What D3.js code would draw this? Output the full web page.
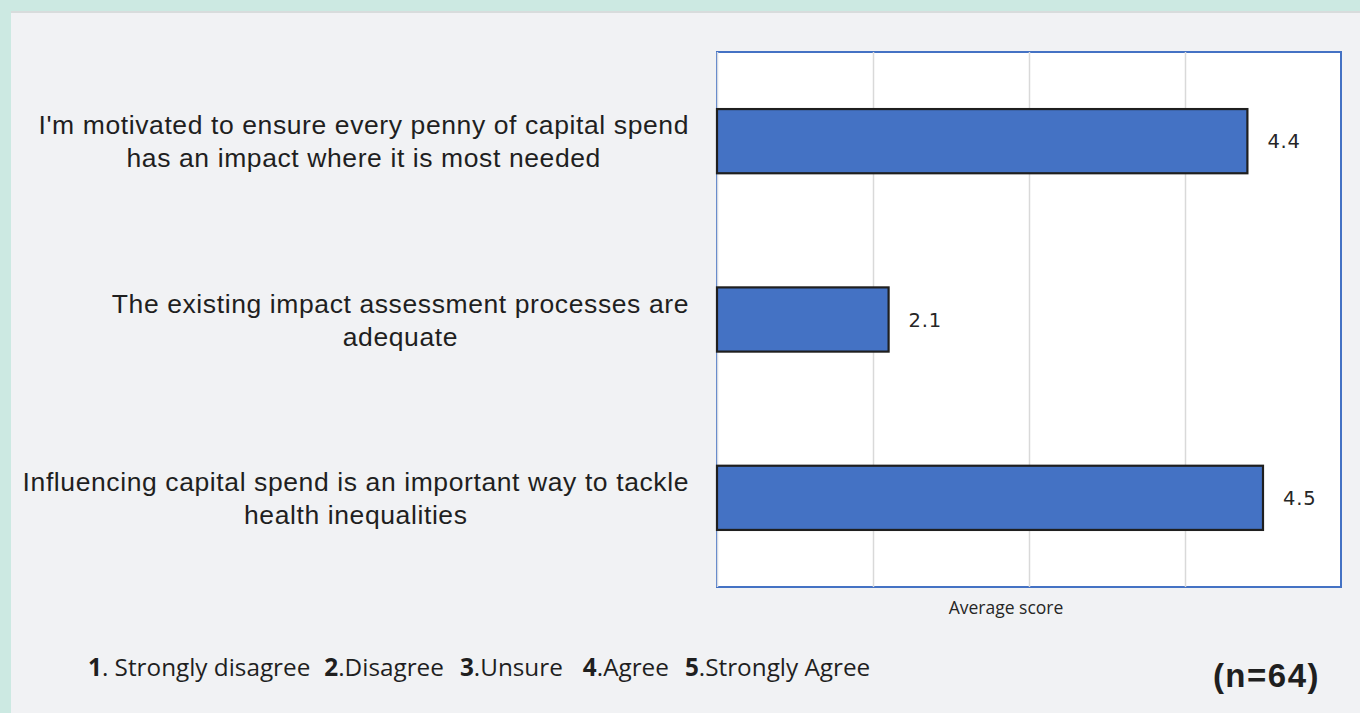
<!DOCTYPE html>
<html>
<head>
<meta charset="utf-8">
<script src="https://cdn.jsdelivr.net/npm/d3@7"></script>
<style>
  html, body { margin: 0; padding: 0; background: #cce9e2; }
  svg { display: block; }
</style>
</head>
<body>
<svg id="chart" width="1360" height="713"></svg>
<script>
// Survey statements (each array entry is one line of the wrapped label)
const categories = [
  ["I'm motivated to ensure every penny of capital spend", "has an impact where it is most needed"],
  ["The existing impact assessment processes are", "adequate"],
  ["Influencing capital spend is an important way to tackle", "health inequalities"]
];
const values = [4.4, 2.1, 4.5];
const gridTicks = [1, 2, 3, 4, 5];
const scaleNumbers = ["1", "2", "3", "4", "5"];
const scaleNames = [". Strongly disagree", ".Disagree", ".Unsure", ".Agree", ".Strongly Agree"];
const axisTitle = "Average score";
const sampleNote = "(n=64)";

const svg = d3.select("#chart");

// page panel on the teal frame
svg.append("rect").attr("x", 11).attr("y", 11).attr("width", 1349).attr("height", 702)
  .attr("fill", "#f1f2f4");
svg.append("rect").attr("x", 11).attr("y", 11).attr("width", 1349).attr("height", 2)
  .attr("fill", "#d8dcdc");

const plot = { left: 717, right: 1341, top: 52, bottom: 587 };

const x = d3.scaleLinear().domain([1, 5]).range([plot.left, plot.right]);
const y = d3.scaleBand().domain(d3.range(values.length))
  .range([plot.top, plot.bottom]).paddingInner(0.64).paddingOuter(0.32);

// plot area
svg.append("rect")
  .attr("x", plot.left).attr("y", plot.top)
  .attr("width", plot.right - plot.left).attr("height", plot.bottom - plot.top)
  .attr("fill", "#ffffff").attr("stroke", "#4472c4").attr("stroke-width", 2);

// vertical gridlines
const grid = svg.append("g")
  .attr("transform", `translate(0,${plot.bottom})`)
  .call(d3.axisBottom(x).tickValues(gridTicks).tickSize(-(plot.bottom - plot.top)).tickFormat(""));
grid.select(".domain").remove();
grid.selectAll(".tick line").attr("stroke", "#d9d9d9").attr("stroke-width", 1.5)
  .filter(d => d === 5).remove();
grid.selectAll(".tick line").filter(d => d === 1).attr("stroke", "#d6dbe3");

// bars
svg.append("g").selectAll("rect").data(values).join("rect")
  .attr("x", x(1))
  .attr("y", (d, i) => y(i))
  .attr("width", d => x(d) - x(1))
  .attr("height", y.bandwidth())
  .attr("fill", "#4472c4")
  .attr("stroke", "#1f1f1f")
  .attr("stroke-width", 2.2);

// value labels
svg.append("g").selectAll("text").data(values).join("text")
  .attr("x", d => x(d) + 20)
  .attr("y", (d, i) => y(i) + y.bandwidth() / 2)
  .attr("dy", "0.36em")
  .attr("font-family", "'DejaVu Sans', sans-serif")
  .attr("font-size", 19.5)
  .attr("letter-spacing", 0.8)
  .attr("fill", "#262626")
  .text(d => d.toFixed(1));

// category labels: centred lines, block right-aligned to the axis
const labelRight = 689;
categories.forEach((lines, i) => {
  const g = svg.append("g");
  const cy = y(i) + y.bandwidth() / 2;
  const lineH = 33;
  const texts = lines.map((ln, j) => g.append("text")
    .attr("y", cy + (j - (lines.length - 1) / 2) * lineH)
    .attr("dy", "0.36em")
    .attr("text-anchor", "middle")
    .attr("font-family", "'Liberation Sans', Arial, sans-serif")
    .attr("font-size", 26.5)
    .attr("letter-spacing", 0.6)
    .attr("fill", "#1f1f1f")
    .text(ln));
  const maxW = d3.max(texts, t => t.node().getComputedTextLength());
  texts.forEach(t => t.attr("x", labelRight - maxW / 2));
});

// axis title
svg.append("text")
  .attr("x", 1006).attr("y", 614)
  .attr("text-anchor", "middle")
  .attr("font-family", "'Open Sans', sans-serif")
  .attr("font-size", 17.5)
  .attr("fill", "#262626")
  .text(axisTitle);

// scale legend: bold number followed by its meaning
const legendGaps = [14, 16, 20, 16];
let lx = 88;
scaleNumbers.forEach((n, i) => {
  const t = svg.append("text")
    .attr("x", lx).attr("y", 676)
    .attr("font-family", "'Open Sans', sans-serif")
    .attr("font-size", 24.3)
    .attr("fill", "#1f1f1f");
  t.append("tspan").attr("font-weight", "bold").text(n);
  t.append("tspan").attr("font-weight", "normal").text(scaleNames[i]);
  lx += t.node().getComputedTextLength() + (legendGaps[i] || 0);
});

// sample size
svg.append("text")
  .attr("x", 1320).attr("y", 687)
  .attr("text-anchor", "end")
  .attr("font-family", "'Liberation Sans', Arial, sans-serif")
  .attr("font-weight", "bold")
  .attr("font-size", 33)
  .attr("letter-spacing", 1.5)
  .attr("fill", "#1f1f1f")
  .text(sampleNote);
</script>
</body>
</html>
